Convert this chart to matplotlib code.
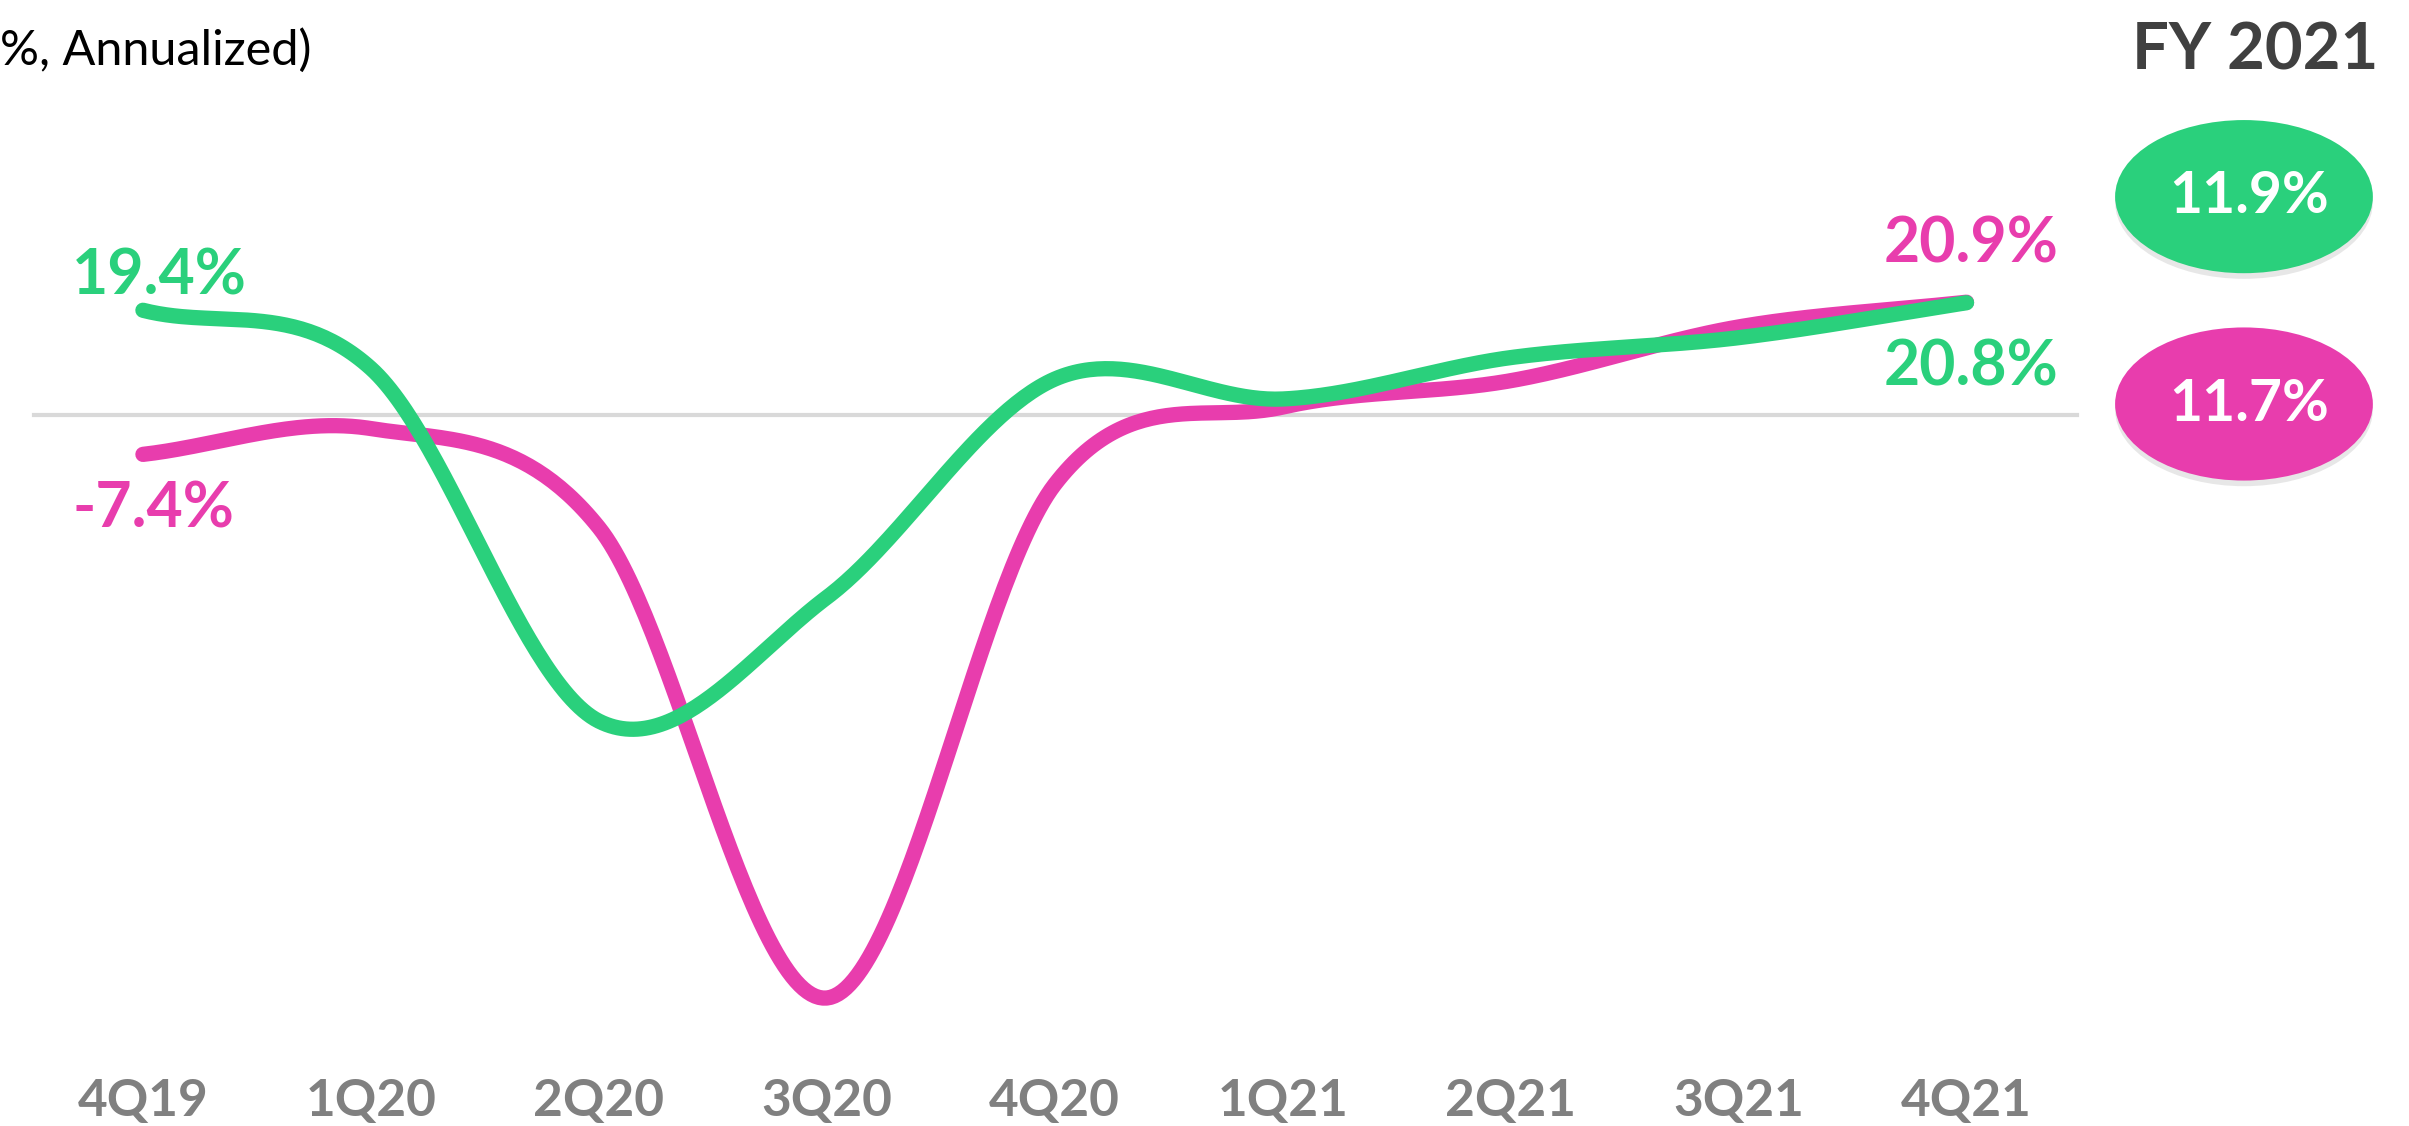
import numpy as np
import matplotlib.pyplot as plt
from matplotlib.patches import Ellipse

plt.rcParams['font.family'] = ['Lato', 'DejaVu Sans']

quarters = ['4Q19', '1Q20', '2Q20', '3Q20', '4Q20', '1Q21', '2Q21', '3Q21', '4Q21']
green_vals = [19.4, 8.6, -57.0, -34.0, 6.6, 2.9, 10.6, 14.3, 20.8]
pink_vals = [-7.4, -2.6, -21.0, -108.5, -13.0, 1.4, 6.3, 16.3, 20.9]
fy_green = 11.9
fy_pink = 11.7

GREEN = '#2AD07C'
PINK = '#E83DAD'


def smooth(ys, steps=60):
    # Catmull-Rom curve through the points, like a spreadsheet "smoothed line"
    ys = np.asarray(ys, dtype=float)
    n = len(ys)
    xs = np.arange(n, dtype=float)
    tan = np.zeros(n)
    tan[1:-1] = (ys[2:] - ys[:-2]) / 2
    tan[0] = ys[1] - ys[0]
    tan[-1] = ys[-1] - ys[-2]
    out_x, out_y = [], []
    t = np.linspace(0, 1, steps)
    h00 = 2 * t**3 - 3 * t**2 + 1
    h10 = t**3 - 2 * t**2 + t
    h01 = -2 * t**3 + 3 * t**2
    h11 = t**3 - t**2
    for i in range(n - 1):
        out_x.append(xs[i] + t)
        out_y.append(h00 * ys[i] + h10 * tan[i] + h01 * ys[i + 1] + h11 * tan[i + 1])
    return np.concatenate(out_x), np.concatenate(out_y)


fig = plt.figure(figsize=(24.09, 11.26), dpi=100)
ax = fig.add_axes([0, 0, 1, 1])
ax.set_xlim(-0.627, 9.941)
ax.set_ylim(-132.3, 77.1)
ax.axis('off')

# zero baseline
ax.axhline(0, xmin=0.014, xmax=0.862, color='#D9D9D9', lw=3, zorder=1)

gx, gy = smooth(green_vals)
px, py = smooth(pink_vals)
ax.plot(px, py, color=PINK, lw=11, solid_capstyle='round', zorder=2)
ax.plot(gx, gy, color=GREEN, lw=11, solid_capstyle='round', zorder=3)

# end labels
lab = dict(fontsize=45, fontweight='bold', ha='center', va='center')
ax.text(0.074, green_vals[0] + 6.3, f'{green_vals[0]:.1f}%', color=GREEN, **lab)
ax.text(0.047, pink_vals[0] - 10.3, f'{pink_vals[0]:.1f}%', color=PINK, **lab)
ax.text(8.02, pink_vals[-1] + 10.7, f'{pink_vals[-1]:.1f}%', color=PINK, **lab)
ax.text(8.02, green_vals[-1] - 12.0, f'{green_vals[-1]:.1f}%', color=GREEN, **lab)

# category labels along the bottom
for i, q in enumerate(quarters):
    ax.text(i, 0.022, q, transform=ax.get_xaxis_transform(), ha='center', va='center',
            fontsize=37, fontweight='bold', color='#808080')

fig.text(0.0, 0.955, '%, Annualized)', fontsize=35, ha='left', va='center', color='black')
fig.text(0.936, 0.955, 'FY 2021', fontsize=47, fontweight='bold', ha='center',
         va='center', color='#404040')

# FY 2021 pills
for cy, col, val in [(1 - 128 / 733, GREEN, fy_green), (1 - 263 / 733, PINK, fy_pink)]:
    shadow = Ellipse((0.9315, cy - 0.005), 0.107, 0.136, transform=fig.transFigure,
                     facecolor='#BBBBBB', alpha=0.35, edgecolor='none', zorder=4)
    pill = Ellipse((0.9315, cy), 0.107, 0.136, transform=fig.transFigure,
                   facecolor=col, edgecolor='none', zorder=5)
    fig.patches.extend([shadow, pill])
    fig.text(0.9335, cy, f'{val:.1f}%', fontsize=41, fontweight='bold', color='white',
             ha='center', va='center', zorder=6)

fig.savefig('out.png', dpi=100)
